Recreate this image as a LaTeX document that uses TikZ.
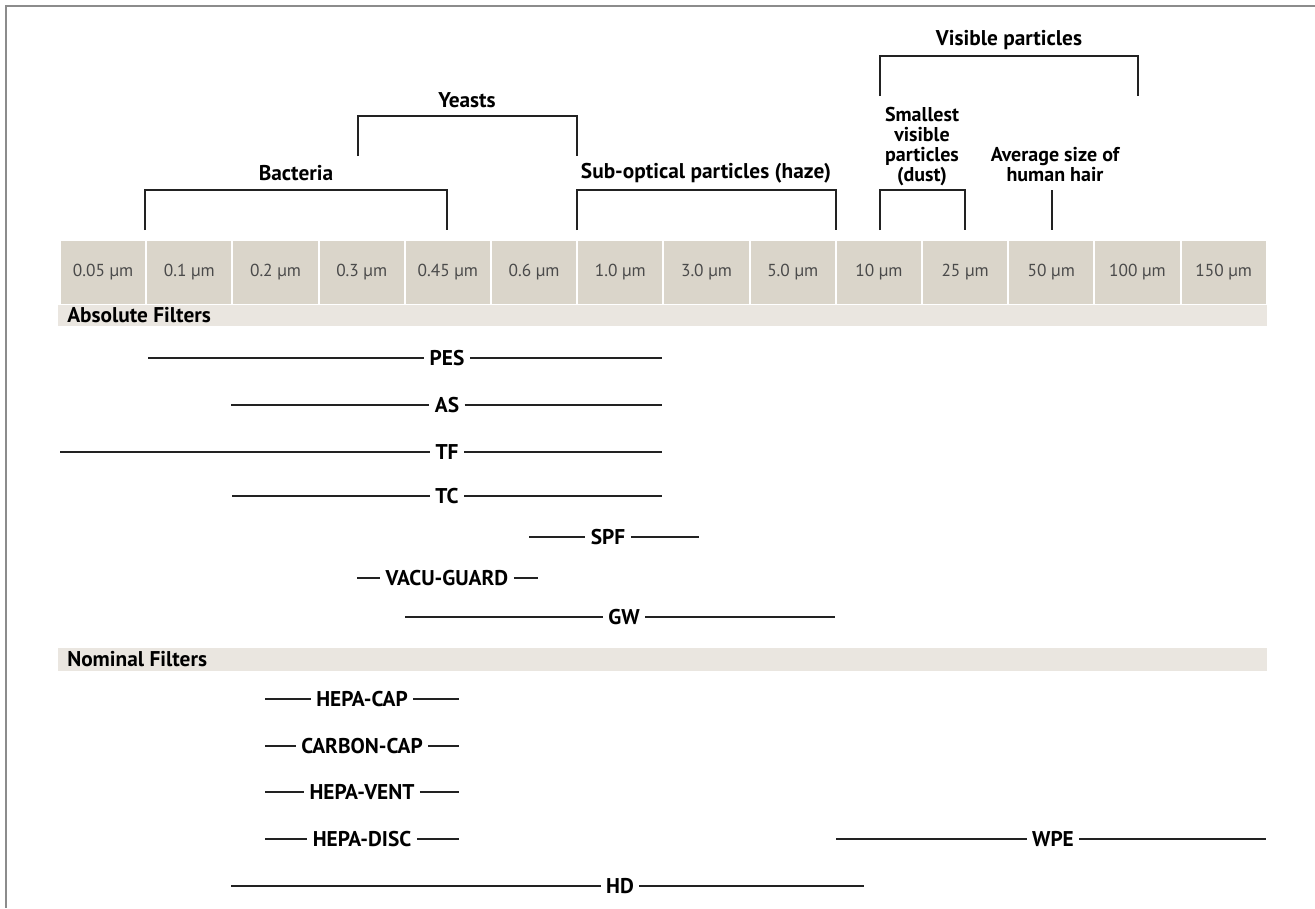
\documentclass[tikz,border=0pt]{standalone}
\usepackage{fontspec}
\setmainfont{PT Sans}
\usepackage{tikz}
\definecolor{cellfill}{HTML}{DAD5CA}
\definecolor{bandfill}{HTML}{EAE6E0}
\definecolor{inkline}{HTML}{222222}
\definecolor{celltext}{HTML}{4A4A4A}
\definecolor{framegray}{HTML}{8C8C8C}
\newcommand{\bigbold}{\fontsize{16}{14}\selectfont\bfseries}

\begin{document}
\begin{tikzpicture}[x=.75pt,y=-.75pt,nodes={font=\bigbold,text=black},
  conn/.style={draw=inkline,line width=1pt},
  filter/.style={inner sep=4pt},
  stacked/.style={align=center,font=\fontsize{15}{15}\selectfont\bfseries},
  sizecell/.style={font=\fontsize{13}{14}\selectfont,text=celltext}]
\def\xo{60}  % left edge of the size scale
\def\cw{86.2} % width of one size cell
\useasboundingbox (0,0) rectangle (1315,908);
\draw[framegray,line width=1.2pt] (1315,6) -- (6,6) -- (6,908);
% size scale
\foreach \lab [count=\i from 0] in {0.05,0.1,0.2,0.3,0.45,0.6,1.0,3.0,5.0,10,25,50,100,150}{
  \fill[cellfill] ({\xo+\i*\cw+1},241) rectangle ({\xo+(\i+1)*\cw-1},304);
  \node[sizecell] (c\i) at ({\xo+(\i+.5)*\cw},272) {\lab\ µm};
}
\fill[bandfill] (58,305) rectangle (1267,326);
\node[anchor=west,inner sep=0pt] (absolute) at (67,315) {Absolute Filters};
\fill[bandfill] (58,648) rectangle (1267,671);
\node[anchor=west,inner sep=0pt] (nominal) at (67,659) {Nominal Filters};
% particle groups
\node (bacteria) at (296,173) {Bacteria};
\draw[conn] (145,230) -- (145,190) -- (447,190) -- (447,230);
\node (yeasts) at (467,100) {Yeasts};
\draw[conn] (358,156) -- (358,116) -- (577,116) -- (577,156);
\node (haze) at (706,173) {Sub-optical particles (haze)};
\draw[conn] (577,230) -- (577,190) -- (836,190) -- (836,230);
\node[stacked] (dust) at (922,147) {Smallest\\visible\\particles\\(dust)};
\draw[conn] (880,230) -- (880,190) -- (965,190) -- (965,230);
\node[stacked] (hair) at (1055,165) {Average size of\\human hair};
\draw[conn] (1052,190) -- (1052,230);
\node (visible) at (1009,40) {Visible particles};
\draw[conn] (880,96) -- (880,56) -- (1138,56) -- (1138,96);
% filter ranges
\foreach \name/\from/\to/\at/\y [count=\k] in {
  PES/148/662/447/358, AS/231/662/447/405, TF/60/662/447/452,
  TC/232/662/447/496, SPF/529/699/608/537, VACU-GUARD/357/538/447/578,
  GW/405/835/624/617, HEPA-CAP/265/459/362/699, CARBON-CAP/265/459/362/746,
  HEPA-VENT/265/459/362/792, HEPA-DISC/265/459/362/839,
  WPE/836/1266/1053/839, HD/231/864/620/886}{
  \coordinate (f\k-l) at (\from,\y);
  \coordinate (f\k-r) at (\to,\y);
  \node[filter] (f\k) at (\at,\y) {\name};
  \draw[conn] (f\k-l) -- (f\k) -- (f\k-r);
}
\end{tikzpicture}
\end{document}
